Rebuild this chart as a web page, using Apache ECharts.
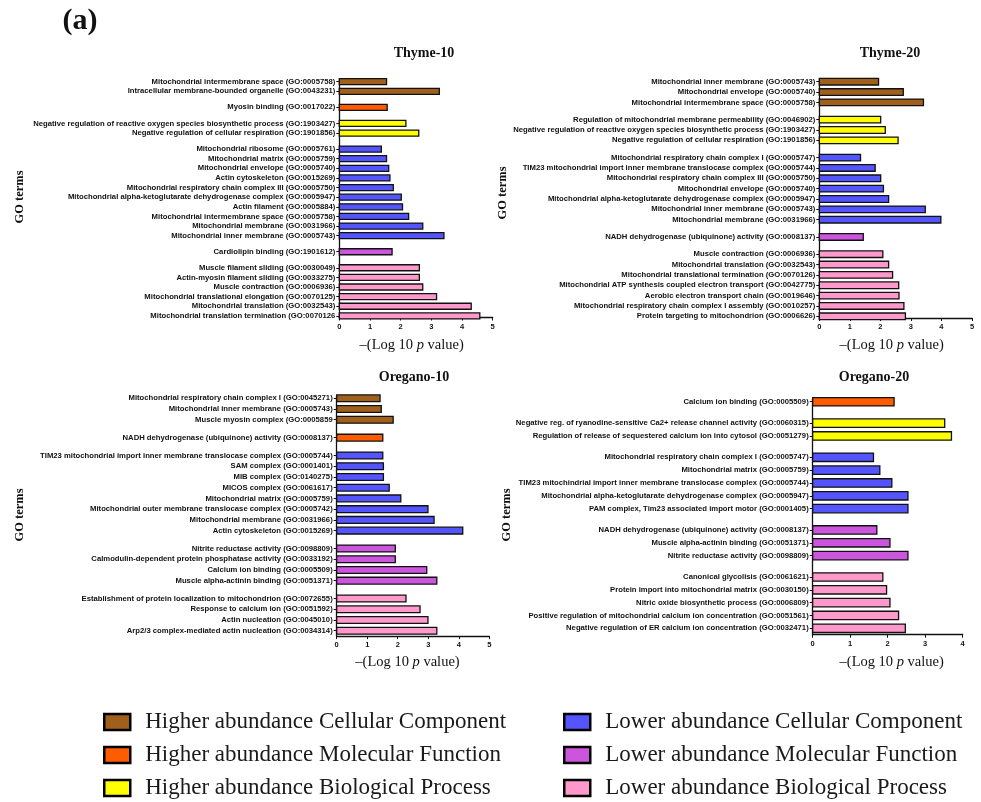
<!DOCTYPE html>
<html>
<head>
<meta charset="utf-8">
<script src="https://cdn.jsdelivr.net/npm/echarts@6/dist/echarts.min.js"></script>
<style>
  html, body { margin: 0; padding: 0; background: #fff; }
  #chart { width: 981px; height: 802px; }
</style>
</head>
<body>
<div id="chart"></div>
<script>
// ---- GO category classes ----
const categoryKeys = ['HC', 'HM', 'HB', 'LC', 'LM', 'LB'];
const categoryNames = [
  'Higher abundance Cellular Component',
  'Higher abundance Molecular Function',
  'Higher abundance Biological Process',
  'Lower abundance Cellular Component',
  'Lower abundance Molecular Function',
  'Lower abundance Biological Process'
];
const categoryColors = ['#A0601C', '#FF5B00', '#FFFF00', '#5555FF', '#CC55DD', '#FF99CC'];

// ---- Thyme-10 ----
const thyme10Terms = [
  'Mitochondrial intermembrane space (GO:0005758)',
  'Intracellular membrane-bounded organelle (GO:0043231)',
  'Myosin binding (GO:0017022)',
  'Negative regulation of reactive oxygen species biosynthetic process (GO:1903427)',
  'Negative regulation of cellular respiration (GO:1901856)',
  'Mitochondrial ribosome (GO:0005761)',
  'Mitochondrial matrix (GO:0005759)',
  'Mitochondrial envelope (GO:0005740)',
  'Actin cytoskeleton (GO:0015269)',
  'Mitochondrial respiratory chain complex III (GO:0005750)',
  'Mitochondrial alpha-ketoglutarate dehydrogenase complex (GO:0005947)',
  'Actin filament (GO:0005884)',
  'Mitochondrial intermembrane space (GO:0005758)',
  'Mitochondrial membrane (GO:0031966)',
  'Mitochondrial inner membrane (GO:0005743)',
  'Cardiolipin binding (GO:1901612)',
  'Muscle filament sliding (GO:0030049)',
  'Actin-myosin filament sliding (GO:0033275)',
  'Muscle contraction (GO:0006936)',
  'Mitochondrial translational elongation (GO:0070125)',
  'Mitochondrial translation (GO:0032543)',
  'Mitochondrial translation termination (GO:0070126'
];
const thyme10Values = [1.54, 3.26, 1.56, 2.17, 2.59, 1.37, 1.54, 1.61, 1.65, 1.76, 2.02,
  2.06, 2.26, 2.72, 3.41, 1.72, 2.61, 2.61, 2.72, 3.17, 4.30, 4.58];
const thyme10Types = ['HC', 'HC', 'HM', 'HB', 'HB', 'LC', 'LC', 'LC', 'LC', 'LC', 'LC',
  'LC', 'LC', 'LC', 'LC', 'LM', 'LB', 'LB', 'LB', 'LB', 'LB', 'LB'];

// ---- Thyme-20 ----
const thyme20Terms = [
  'Mitochondrial inner membrane (GO:0005743)',
  'Mitochondrial envelope (GO:0005740)',
  'Mitochondrial intermembrane space (GO:0005758)',
  'Regulation of mitochondrial membrane permeability (GO:0046902)',
  'Negative regulation of reactive oxygen species biosynthetic process (GO:1903427)',
  'Negative regulation of cellular respiration (GO:1901856)',
  'Mitochondrial respiratory chain complex I (GO:0005747)',
  'TIM23 mitochondrial import inner membrane translocase complex (GO:0005744)',
  'Mitochondrial respiratory chain complex III (GO:0005750)',
  'Mitochondrial envelope (GO:0005740)',
  'Mitochondrial alpha-ketoglutarate dehydrogenase complex (GO:0005947)',
  'Mitochondrial inner membrane (GO:0005743)',
  'Mitochondrial membrane (GO:0031966)',
  'NADH dehydrogenase (ubiquinone) activity (GO:0008137)',
  'Muscle contraction (GO:0006936)',
  'Mitochondrial translation (GO:0032543)',
  'Mitochondrial translational termination (GO:0070126)',
  'Mitochondrial ATP synthesis coupled electron transport (GO:0042775)',
  'Aerobic electron transport chain (GO:0019646)',
  'Mitochondrial respiratory chain complex I assembly (GO:0010257)',
  'Protein targeting to mitochondrion (GO:0006626)'
];
const thyme20Values = [1.94, 2.75, 3.41, 2.01, 2.16, 2.58, 1.35, 1.83, 2.01, 2.10, 2.27,
  3.47, 3.98, 1.44, 2.08, 2.27, 2.40, 2.60, 2.61, 2.77, 2.82];
const thyme20Types = ['HC', 'HC', 'HC', 'HB', 'HB', 'HB', 'LC', 'LC', 'LC', 'LC', 'LC',
  'LC', 'LC', 'LM', 'LB', 'LB', 'LB', 'LB', 'LB', 'LB', 'LB'];

// ---- Oregano-10 ----
const oregano10Terms = [
  'Mitochondrial respiratory chain complex I (GO:0045271)',
  'Mitochondrial inner membrane (GO:0005743)',
  'Muscle myosin complex (GO:0005859',
  'NADH dehydrogenase (ubiquinone) activity (GO:0008137)',
  'TIM23 mitochondrial import inner membrane translocase complex (GO:0005744)',
  'SAM complex (GO:0001401)',
  'MIB complex (GO:0140275)',
  'MICOS complex (GO:0061617)',
  'Mitochondrial matrix (GO:0005759)',
  'Mitochondrial outer membrane translocase complex (GO:0005742)',
  'Mitochondrial membrane (GO:0031966)',
  'Actin cytoskeleton (GO:0015269)',
  'Nitrite reductase activity (GO:0098809)',
  'Calmodulin-dependent protein phosphatase activity (GO:0033192)',
  'Calcium ion binding (GO:0005509)',
  'Muscle alpha-actinin binding (GO:0051371)',
  'Establishment of protein localization to mitochondrion (GO:0072655)',
  'Response to calcium ion (GO:0051592)',
  'Actin nucleation (GO:0045010)',
  'Arp2/3 complex-mediated actin nucleation (GO:0034314)'
];
const oregano10Values = [1.42, 1.46, 1.85, 1.51, 1.51, 1.53, 1.53, 1.72, 2.10, 2.99,
  3.19, 4.13, 1.92, 1.92, 2.95, 3.28, 2.27, 2.73, 2.99, 3.28];
const oregano10Types = ['HC', 'HC', 'HC', 'HM', 'LC', 'LC', 'LC', 'LC', 'LC', 'LC',
  'LC', 'LC', 'LM', 'LM', 'LM', 'LM', 'LB', 'LB', 'LB', 'LB'];

// ---- Oregano-20 ----
const oregano20Terms = [
  'Calcium ion binding (GO:0005509)',
  'Negative reg. of ryanodine-sensitive Ca2+ release channel activity (GO:0060315)',
  'Regulation of release of sequestered calcium ion into cytosol (GO:0051279)',
  'Mitochondrial respiratory chain complex I (GO:0005747)',
  'Mitochondrial matrix (GO:0005759)',
  'TIM23 mitochindrial import inner membrane translocase complex (GO:0005744)',
  'Mitochondrial alpha-ketoglutarate dehydrogenase complex (GO:0005947)',
  'PAM complex, Tim23 associated import motor (GO:0001405)',
  'NADH dehydrogenase (ubiquinone) activity (GO:0008137)',
  'Muscle alpha-actinin binding (GO:0051371)',
  'Nitrite reductase activity (GO:0098809)',
  'Canonical glycolisis (GO:0061621)',
  'Protein import into mitochondrial matrix (GO:0030150)',
  'Nitric oxide biosynthetic process (GO:0006809)',
  'Positive regulation of mitochondrial calcium ion concentration (GO:0051561)',
  'Negative regulation of ER calcium ion concentration (GO:0032471)'
];
const oregano20Values = [2.17, 3.52, 3.70, 1.62, 1.79, 2.11, 2.54, 2.54, 1.71, 2.06,
  2.54, 1.87, 1.97, 2.06, 2.29, 2.47];
const oregano20Types = ['HM', 'HB', 'HB', 'LC', 'LC', 'LC', 'LC', 'LC', 'LM', 'LM',
  'LM', 'LB', 'LB', 'LB', 'LB', 'LB'];

// x-axis ranges
const xMaxes = [5, 5, 5, 4];
const panelTitles = ['Thyme-10', 'Thyme-20', 'Oregano-10', 'Oregano-20'];

const panels = [
  { terms: thyme10Terms, values: thyme10Values, types: thyme10Types },
  { terms: thyme20Terms, values: thyme20Values, types: thyme20Types },
  { terms: oregano10Terms, values: oregano10Values, types: oregano10Types },
  { terms: oregano20Terms, values: oregano20Values, types: oregano20Types }
];

// ---- layout of the four plot areas ----
const layouts = [
  { left: 339.3, width: 153.4, top: 80.1, height: 237.4, tail: 0, barH: 6.0,
    title: [424, 53], yName: [20, 197], xName: [411.7, 345] },
  { left: 819.3, width: 152.7, top: 80.0, height: 238.0, tail: 0, barH: 6.6,
    title: [890, 53], yName: [503, 193], xName: [891.7, 345] },
  { left: 336.7, width: 152.6, top: 396.5, height: 239.6, tail: 1, barH: 6.8,
    title: [414, 377], yName: [20, 515], xName: [407.5, 662] },
  { left: 812.7, width: 150.0, top: 399.6, height: 235.1, tail: 1, barH: 8.4,
    title: [874, 377], yName: [507, 515], xName: [891.7, 662] }
];

const SANS = '"Liberation Sans", Arial, sans-serif';
const SERIF = '"Liberation Serif", "Times New Roman", serif';
const INK = '#111';

// Each term takes ROW_SLOTS fine rows; a change of class adds GAP_SLOTS more.
const ROW_SLOTS = 3;
const GAP_SLOTS = 2;

function buildSlots(terms, types, tail) {
  const labels = [];
  const pos = [];
  terms.forEach((t, i) => {
    if (i > 0) {
      let pad = ROW_SLOTS - 1;
      if (types[i] !== types[i - 1]) pad += GAP_SLOTS;
      for (let k = 0; k < pad; k++) labels.push('');
    }
    pos.push(labels.length);
    labels.push(t);
  });
  for (let k = 0; k < tail; k++) labels.push('');
  return { labels, pos };
}

const grids = [], xAxes = [], yAxes = [], series = [], graphics = [];
const showTerm = (idx, val) => val !== '';

panels.forEach((p, pi) => {
  const L = layouts[pi];
  const slots = buildSlots(p.terms, p.types, L.tail);

  grids.push({ left: L.left, top: L.top, width: L.width, height: L.height, containLabel: false });

  xAxes.push({
    type: 'value', gridIndex: pi, min: 0, max: xMaxes[pi], interval: 1,
    axisLine: { show: true, lineStyle: { color: INK, width: 1.3 } },
    axisTick: { show: true, length: 3, lineStyle: { color: INK, width: 1 } },
    axisLabel: { fontFamily: SANS, fontWeight: 'bold', fontSize: 7.5, color: INK, margin: 5 },
    splitLine: { show: false }
  });

  yAxes.push({
    type: 'category', gridIndex: pi, inverse: true, data: slots.labels,
    axisLine: { show: true, lineStyle: { color: INK, width: 1.3 } },
    axisTick: { show: true, interval: showTerm, alignWithLabel: true, length: 3,
      lineStyle: { color: INK, width: 1 } },
    axisLabel: { interval: showTerm, fontFamily: SANS, fontWeight: 'bold', fontSize: 7.7,
      color: INK, margin: 4 },
    splitLine: { show: false }
  });

  categoryKeys.forEach((key, ci) => {
    const data = [];
    p.types.forEach((t, i) => { if (t === key) data.push([p.values[i], slots.pos[i]]); });
    if (!data.length) return;
    const barH = L.barH;
    series.push({
      type: 'custom',
      name: categoryNames[ci],
      coordinateSystem: 'cartesian2d',
      xAxisIndex: pi, yAxisIndex: pi,
      itemStyle: { color: categoryColors[ci], borderColor: INK, borderWidth: 1.3 },
      encode: { x: 0, y: 1 },
      data: data,
      z: 3,
      renderItem: function (params, api) {
        const start = api.coord([0, api.value(1)]);
        const end = api.coord([api.value(0), api.value(1)]);
        return {
          type: 'rect',
          shape: { x: start[0], y: start[1] - barH / 2, width: end[0] - start[0], height: barH },
          style: { fill: categoryColors[ci], stroke: INK, lineWidth: 1.3 }
        };
      }
    });
  });

  graphics.push({
    type: 'text', x: L.title[0], y: L.title[1],
    style: { text: panelTitles[pi], fontFamily: SERIF, fontWeight: 'bold', fontSize: 14,
      fill: INK, align: 'center', verticalAlign: 'middle' }
  });
  graphics.push({
    type: 'text', x: L.yName[0], y: L.yName[1], rotation: Math.PI / 2,
    style: { text: 'GO terms', fontFamily: SERIF, fontWeight: 'bold', fontSize: 12.5,
      fill: INK, align: 'center', verticalAlign: 'middle' }
  });
  graphics.push({
    type: 'text', x: L.xName[0], y: L.xName[1],
    style: {
      text: '\u2013(Log 10 {i|p} value)', fontFamily: SERIF, fontSize: 14.5, fill: INK,
      align: 'center', verticalAlign: 'middle',
      rich: { i: { fontFamily: SERIF, fontSize: 14.5, fontStyle: 'italic', fill: INK } }
    }
  });
});

graphics.push({
  type: 'text', x: 80, y: 21,
  style: { text: '(a)', fontFamily: SERIF, fontWeight: 'bold', fontSize: 30, fill: INK,
    align: 'center', verticalAlign: 'middle' }
});

const legendBase = {
  orient: 'vertical', padding: 0, itemWidth: 26, itemHeight: 16, itemGap: 10,
  icon: 'rect', selectedMode: false,
  itemStyle: { borderColor: '#000', borderWidth: 2.5 },
  textStyle: { fontFamily: SERIF, fontSize: 23, color: '#1a1a1a', padding: [0, 0, 0, 10] }
};

const chart = echarts.init(document.getElementById('chart'), null, { renderer: 'canvas' });
chart.setOption({
  backgroundColor: '#fff',
  animation: false,
  grid: grids,
  xAxis: xAxes,
  yAxis: yAxes,
  series: series,
  graphic: graphics,
  legend: [
    Object.assign({}, legendBase, { left: 103, top: 710.5, data: categoryNames.slice(0, 3) }),
    Object.assign({}, legendBase, { left: 563, top: 710.5, data: categoryNames.slice(3) })
  ]
});
</script>
</body>
</html>
